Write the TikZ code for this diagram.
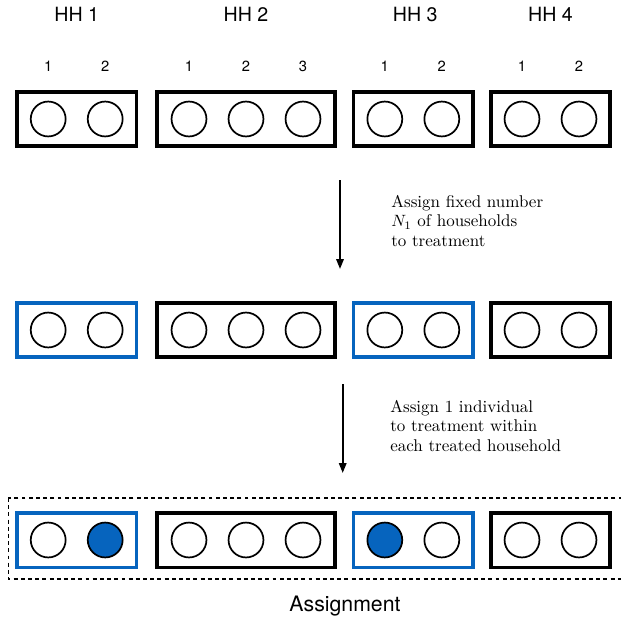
\documentclass[tikz,border=0pt]{standalone}
\usepackage{fontspec}
\usepackage{amsmath}
\usetikzlibrary{positioning, calc, arrows.meta}
\newfontfamily\hhfont{TeX Gyre Heros}
\definecolor{hhblue}{RGB}{6,100,190}
\tikzstyle{hhbox} = [rectangle, draw=black, line width=2.1pt, minimum height=1.17cm, inner sep=0pt]
\tikzstyle{treated} = [hhbox, draw=hhblue]
\tikzstyle{person} = [circle, draw=black, line width=1.05pt, minimum size=0.75cm, inner sep=0pt]
\tikzstyle{chosen} = [person, fill=hhblue]
\tikzstyle{hhlabel} = [font=\hhfont\fontsize{12}{14}\selectfont]
\tikzstyle{numlabel} = [font=\hhfont\fontsize{9}{11}\selectfont]
\tikzstyle{arrow} = [line width=1.1pt, -{Triangle[length=6pt, width=4.5pt]}]
\tikzstyle{note} = [align=left, anchor=west, inner sep=0pt, font=\fontsize{10.4}{12}\selectfont]

\begin{document}
\begin{tikzpicture}[x=0.0215cm, y=-0.0215cm]
    \useasboundingbox (0,0) rectangle (621,621);

    % Households
    \node (a1) [hhbox, minimum width=2.565cm] at (76.7,119) {};
    \node (a2) [hhbox, minimum width=3.83cm] at (246,119) {};
    \node (a3) [hhbox, minimum width=2.565cm] at (413.3,119) {};
    \node (a4) [hhbox, minimum width=2.565cm] at (550.5,119) {};

    % Households after first step
    \node (b1) [treated, minimum width=2.565cm] at (76.7,330) {};
    \node (b2) [hhbox, minimum width=3.83cm] at (246,330) {};
    \node (b3) [treated, minimum width=2.565cm] at (413.3,330) {};
    \node (b4) [hhbox, minimum width=2.565cm] at (550.5,330) {};

    % Households after second step
    \node (c1) [treated, minimum width=2.565cm] at (76.7,540) {};
    \node (c2) [hhbox, minimum width=3.83cm] at (246,540) {};
    \node (c3) [treated, minimum width=2.565cm] at (413.3,540) {};
    \node (c4) [hhbox, minimum width=2.565cm] at (550.5,540) {};

    % Members
    \foreach \r in {a,b} {
        \foreach \h in {1,3,4} {
            \node (\r\h1) [person] at ($(\r\h)+(-28.5,0)$) {};
            \node (\r\h2) [person] at ($(\r\h)+(28.5,0)$) {};
        }
        \foreach \i/\dx in {1/-57,2/0,3/57}
            \node (\r2\i) [person] at ($(\r2)+(\dx,0)$) {};
    }
    \node (c11) [person] at ($(c1)+(-28.5,0)$) {};
    \node (c12) [chosen] at ($(c1)+(28.5,0)$) {};
    \node (c21) [person] at ($(c2)+(-57,0)$) {};
    \node (c22) [person] at (c2) {};
    \node (c23) [person] at ($(c2)+(57,0)$) {};
    \node (c31) [chosen] at ($(c3)+(-28.5,0)$) {};
    \node (c32) [person] at ($(c3)+(28.5,0)$) {};
    \node (c41) [person] at ($(c4)+(-28.5,0)$) {};
    \node (c42) [person] at ($(c4)+(28.5,0)$) {};

    % Labels
    \node (hh1) [hhlabel] at ($(a1)+(0,-105)$) {HH 1};
    \node (hh2) [hhlabel] at ($(a2)+(0,-105)$) {HH 2};
    \node (hh3) [hhlabel] at ($(a3)+(2,-105)$) {HH 3};
    \node (hh4) [hhlabel] at ($(a4)+(0,-105)$) {HH 4};
    \foreach \h in {1,3,4} {
        \node [numlabel, above=0.5cm of a\h1] {1};
        \node [numlabel, above=0.5cm of a\h2] {2};
    }
    \foreach \i in {1,2,3}
        \node [numlabel, above=0.5cm of a2\i] {\i};

    % Steps
    \coordinate (s1) at (340,180);
    \coordinate (e1) at (340,269);
    \draw [arrow] (s1) -- (e1);
    \node (step1) [note] at (391,221) {Assign fixed number\\$N_1$ of households\\to treatment};

    \coordinate (s2) at (342.7,384);
    \coordinate (e2) at (342.7,473);
    \draw [arrow] (s2) -- (e2);
    \node (step2) [note] at (390,426) {Assign 1 individual\\to treatment within\\each treated household};

    % Result
    \draw [line width=0.8pt, dash pattern=on 2.4pt off 2pt] (8.3,498) rectangle (630,579);
    \node (assign) [hhlabel, font=\hhfont\fontsize{13}{15}\selectfont] at (345,606) {Assignment};
\end{tikzpicture}
\end{document}
